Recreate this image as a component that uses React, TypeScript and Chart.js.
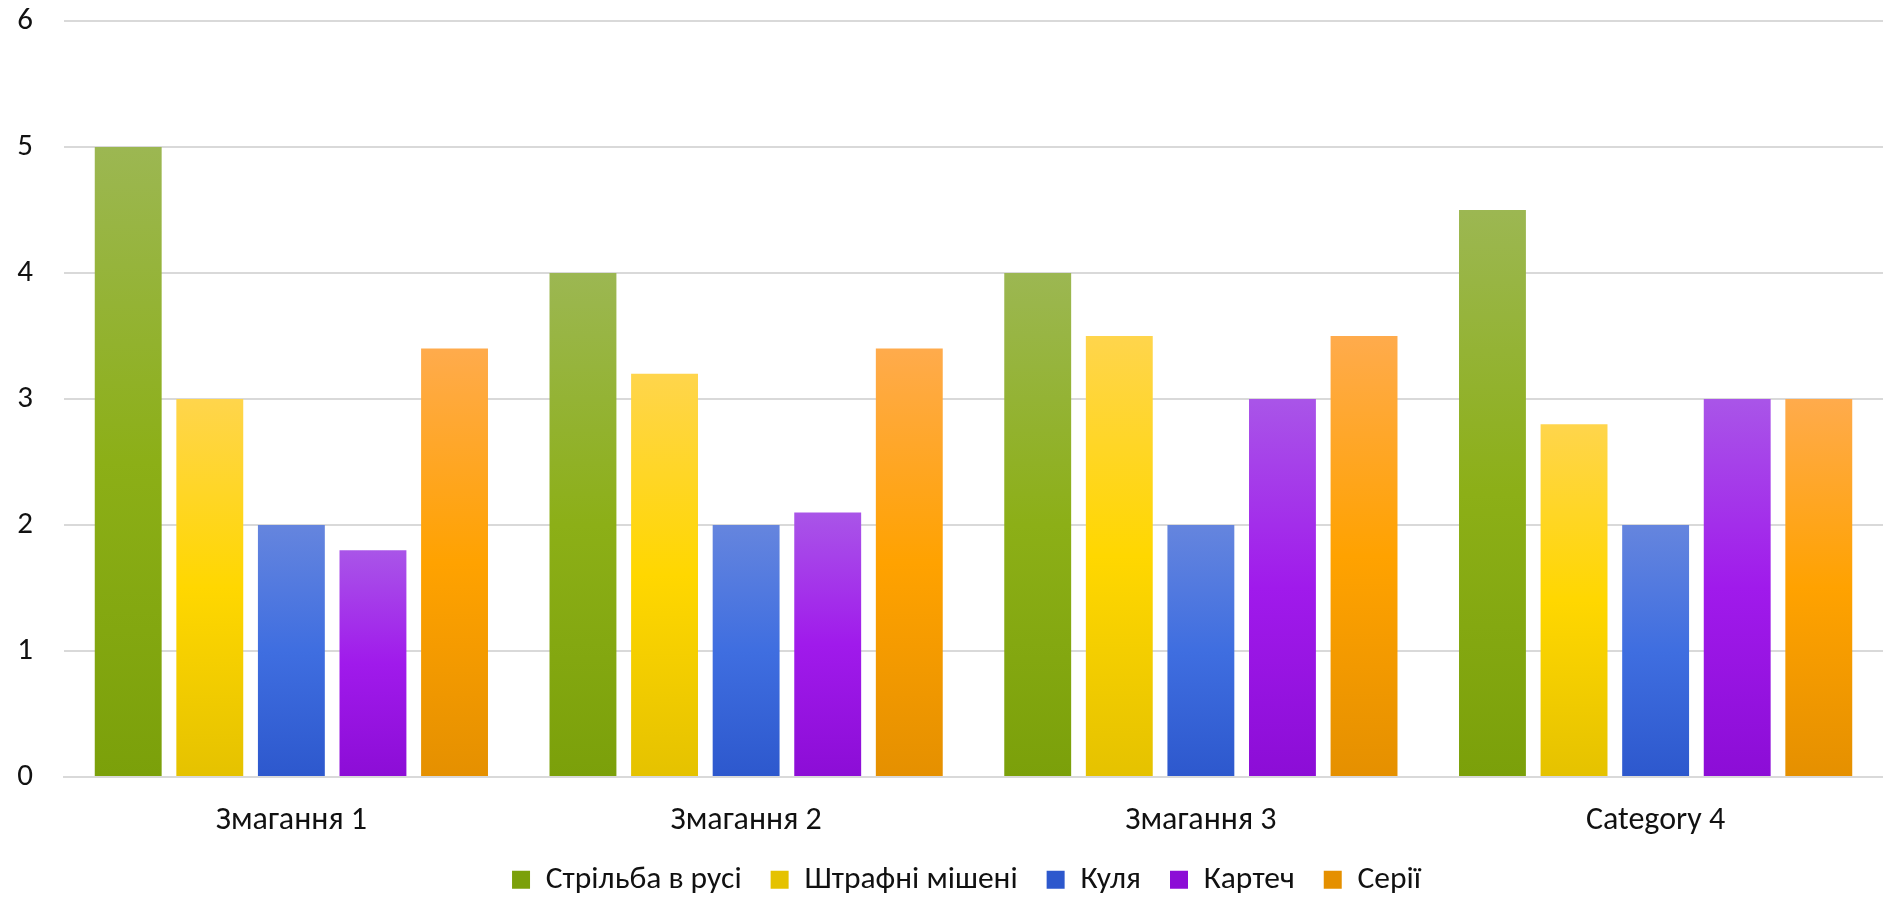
import React, { useEffect, useRef } from "react";
import { Chart, registerables } from "chart.js";

Chart.register(...registerables);

const categories = ["Змагання 1", "Змагання 2", "Змагання 3", "Category 4"];
const seriesNames = ["Стрільба в русі", "Штрафні мішені", "Куля", "Картеч", "Серії"];
const strilba = [5, 4, 4, 4.5];
const shtrafni = [3, 3.2, 3.5, 2.8];
const kulia = [2, 2, 2, 2];
const kartech = [1.8, 2.1, 3, 3];
const serii = [3.4, 3.4, 3.5, 3];
const yTicks = [0, 1, 2, 3, 4, 5, 6];

const palettes: [string, string, string][] = [
  ["#9cb752", "#8caf17", "#7ba00a"],
  ["#ffd54c", "#ffd700", "#e5c200"],
  ["#6585de", "#3f6ee0", "#2d58cd"],
  ["#a955e8", "#a01aeb", "#8c0dd6"],
  ["#ffab4c", "#ffa200", "#e59000"],
];

const FONT = "Carlito, Lato, 'Open Sans', sans-serif";

const legendTweak = {
  id: "legendTweak",
  beforeLayout(chart: any) {
    const lg = chart.legend;
    if (lg && !lg.__patched) {
      const orig = lg.fit;
      lg.fit = function (this: any) {
        orig.call(this);
        this.height = 63;
      };
      lg.__patched = true;
    }
  },
  afterLayout(chart: any) {
    const lg = chart.legend;
    if (lg) {
      lg.left += 25;
      lg.right += 25;
    }
  },
};

export default function App() {
  const ref = useRef<HTMLCanvasElement | null>(null);

  useEffect(() => {
    if (!ref.current) return;
    const values = [strilba, shtrafni, kulia, kartech, serii];
    const datasets = seriesNames.map((name, i) => {
      const [c0, c1, c2] = palettes[i];
      return {
        label: name,
        data: values[i],
        backgroundColor: (ctx: any) => {
          const chart = ctx.chart;
          const ys = chart.scales?.y;
          if (ctx.type !== "data" || !chart.chartArea || !ys) return c1;
          const v = ctx.raw as number;
          const top = ys.getPixelForValue(v);
          const bot = ys.getPixelForValue(0);
          if (!isFinite(top) || !isFinite(bot) || top === bot) return c1;
          const g = chart.ctx.createLinearGradient(0, top, 0, bot);
          g.addColorStop(0, c0);
          g.addColorStop(0.5, c1);
          g.addColorStop(1, c2);
          return g;
        },
        borderWidth: 0,
        categoryPercentage: 0.897,
        barPercentage: 0.82,
      };
    });

    const chart = new Chart(ref.current, {
      type: "bar",
      data: { labels: categories, datasets },
      plugins: [legendTweak],
      options: {
        responsive: false,
        animation: false,
        layout: { padding: { top: 21, bottom: 0, left: 0, right: 0 } },
        plugins: {
          tooltip: { enabled: false },
          legend: {
            position: "bottom",
            labels: {
              boxWidth: 18,
              boxHeight: 18,
              padding: 29,
              color: "#111",
              font: { family: FONT, size: 31.5 },
            },
          },
        },
        scales: {
          x: {
            grid: { display: false, drawTicks: false },
            border: { color: "#d9d9d9", width: 2 },
            afterFit: (scale: any) => {
              scale.height = 58;
              scale.paddingTop = 0;
              scale.paddingBottom = 0;
            },
            ticks: {
              color: "#111",
              padding: 25,
              font: { family: FONT, size: 32 },
            },
          },
          y: {
            min: 0,
            max: 6,
            afterFit: (scale: any) => {
              scale.width = 64;
              scale.paddingTop = 0;
              scale.paddingBottom = 0;
            },
            afterBuildTicks: (scale: any) => {
              scale.ticks = yTicks.map((v) => ({ value: v }));
            },
            border: { display: false },
            grid: { color: "#d9d9d9", lineWidth: 2, drawTicks: false },
            ticks: {
              color: "#111",
              padding: 31,
              font: { family: FONT, size: 31 },
            },
          },
        },
      },
    });
    return () => chart.destroy();
  }, []);

  return (
    <div style={{ position: "fixed", left: 0, top: 0, width: 1883, height: 898, background: "#fff" }}>
      <canvas ref={ref} width={1883} height={898} style={{ display: "block" }} />
    </div>
  );
}
